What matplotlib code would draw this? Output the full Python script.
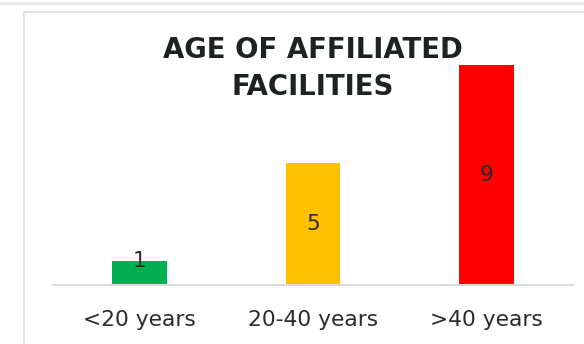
import matplotlib
matplotlib.use("Agg")
import matplotlib.pyplot as plt
from matplotlib.lines import Line2D

categories = ["<20 years", "20-40 years", ">40 years"]
values = [1, 5, 9]
colors = ["#00B050", "#FFC000", "#FF0000"]
title = "AGE OF AFFILIATED\nFACILITIES"

plt.rcParams['font.family'] = ['DejaVu Sans']

fig = plt.figure(figsize=(5.84, 3.44), dpi=100)
fig.patch.set_facecolor("white")

# outer frame lines
fig.add_artist(Line2D([0, 1], [1 - 3/344, 1 - 3/344], color="#e4e8e8", lw=2, transform=fig.transFigure))
fig.add_artist(Line2D([24/584, 1], [1 - 12/344, 1 - 12/344], color="#dde2e2", lw=1.5, transform=fig.transFigure))
fig.add_artist(Line2D([24/584, 24/584], [0, 1 - 12/344], color="#dde2e2", lw=1.5, transform=fig.transFigure))

ax = fig.add_axes([53/584, 59/344, 520/584, 0.7105])
x = range(len(categories))
bars = ax.bar(x, values, width=0.317, color=colors)
ax.set_xlim(-0.5, len(categories) - 0.5)
ax.set_ylim(0, 10)
for s in ["top", "right", "left"]:
    ax.spines[s].set_visible(False)
ax.spines["bottom"].set_color("#d9dedd")
ax.spines["bottom"].set_linewidth(1.5)
ax.set_yticks([])
ax.set_xticks(list(x))
ax.set_xticklabels(categories, fontsize=15.7, color="#2b2b2b")
ax.tick_params(axis="x", length=0, pad=18)

for i, v in enumerate(values):
    ypos = v if v < 2 else v / 2
    ax.text(i, ypos, str(v), ha="center", va="center", fontsize=15.5, color="#2b2b2b")

fig.text(313/584, 1 - 68.5/344, title, ha="center", va="center", fontsize=19.8,
         fontweight="bold", color="#1d2320", linespacing=1.4)

fig.savefig("out.png", dpi=100)
